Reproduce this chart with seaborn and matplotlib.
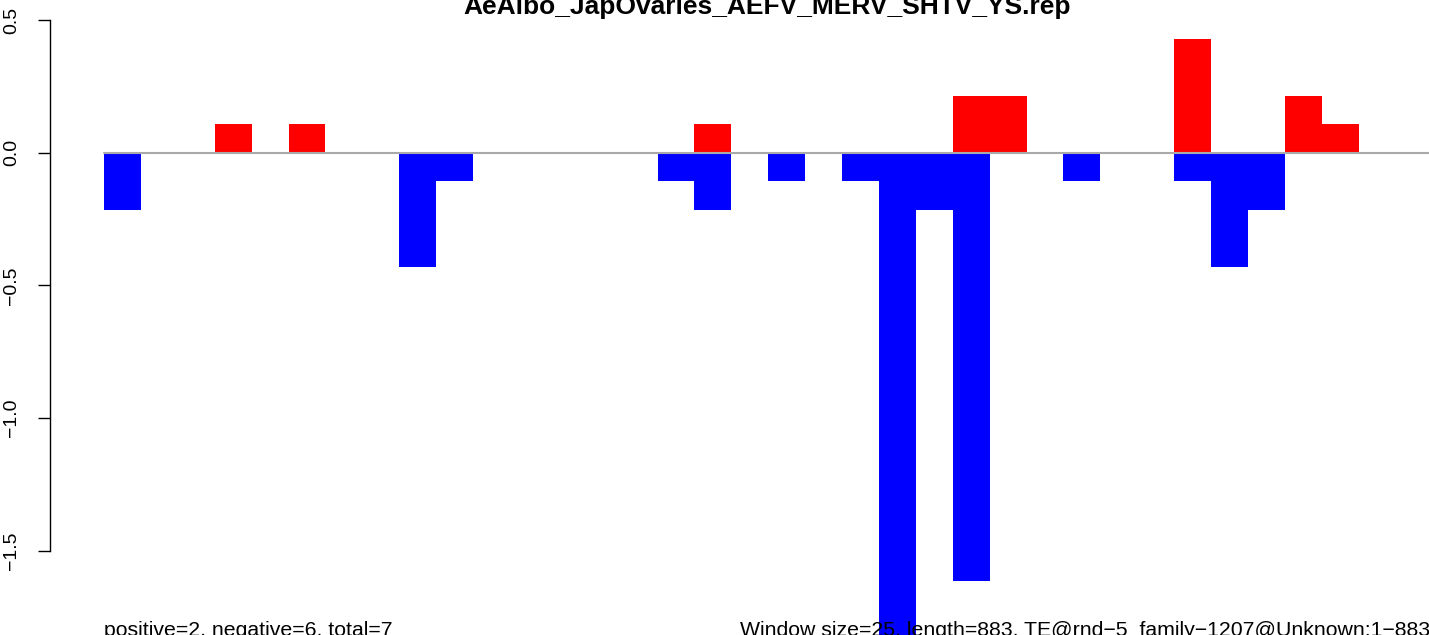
import numpy as np
import pandas as pd
import matplotlib
matplotlib.use("Agg")
import matplotlib.pyplot as plt
import seaborn as sns

# Window-level scores (36 windows of 25 nt over an 883 nt element)
unit = 0.1075
windows = list(range(36))
sense_counts = [0, 0, 0, 1, 0, 1, 0, 0, 0, 0, 0, 0, 0, 0, 0, 0, 1, 0, 0, 0,
                0, 0, 0, 2, 2, 0, 0, 0, 0, 4, 0, 0, 2, 1, 0, 0]
antisense_counts = [2, 0, 0, 0, 0, 0, 0, 0, 4, 1, 0, 0, 0, 0, 0, 1, 2, 0, 1, 0,
                    1, 18, 2, 15, 0, 0, 1, 0, 0, 1, 4, 2, 0, 0, 0, 0]
positive_values = [c * unit for c in sense_counts]
negative_values = [-c * unit for c in antisense_counts]
y_ticks = [-1.5, -1.0, -0.5, 0.0, 0.5]

title = "AeAlbo_JapOvaries_AEFV_MERV_SHTV_YS.rep"
left_note = "positive=2, negative=6, total=7"
right_note = "Window size=25, length=883, TE@rnd\u22125_family\u22121207@Unknown:1\u2212883"

sns.set_theme(style="white")
plt.rcParams["font.family"] = ["Liberation Sans", "DejaVu Sans"]
plt.rcParams["text.color"] = "black"
plt.rcParams["ytick.color"] = "black"

W, H = 1429, 635
fig = plt.figure(figsize=(W / 100, H / 100), dpi=100)
ax = fig.add_axes([50 / W, 0, 1 - 50 / W, 1])

df = pd.DataFrame({"window": windows, "pos": positive_values, "neg": negative_values})
sns.barplot(data=df, x="window", y="pos", color="#ff0000", saturation=1,
            width=1, linewidth=0, ax=ax)
sns.barplot(data=df, x="window", y="neg", color="#0000ff", saturation=1,
            width=1, linewidth=0, ax=ax)

# baseline at zero, starting at the first window
ax.plot([-0.5, 40], [0, 0], color="#a9a9a9", lw=1.5, zorder=5, clip_on=True)

px_per_bar = 36.9
ax.set_xlim(-0.5 - 54 / px_per_bar, -0.5 + (W - 104) / px_per_bar)
ax.set_ylim(-(635 - 152.7) / 265.4, 152.7 / 265.4)

ax.set_xticks([])
ax.set_xlabel("")
ax.set_ylabel("")
ax.set_yticks(y_ticks)
ax.set_yticklabels([f"{v:.1f}".replace("-", "\u2212") for v in y_ticks],
                   rotation=90, va="center", fontsize=14, color="black")
ax.tick_params(axis="y", left=True, length=8.6, width=1.0, pad=13,
               colors="black", labelcolor="black")
for s in ["top", "right", "bottom"]:
    ax.spines[s].set_visible(False)
ax.spines["left"].set_bounds(-1.5, 0.5)
ax.spines["left"].set_linewidth(1.0)
ax.spines["left"].set_color("black")
ax.set_facecolor("white")

fig.text(767 / W, 1 - 14 / H, title, ha="center", va="baseline",
         fontsize=19, fontweight="bold", color="black")
fig.text(104 / W, -1 / H, left_note, ha="left", va="baseline",
         fontsize=15.3, color="black")
fig.text(740 / W, -1 / H, right_note, ha="left", va="baseline",
         fontsize=15.3, color="black")

fig.savefig("out.png", dpi=100, facecolor="white")
